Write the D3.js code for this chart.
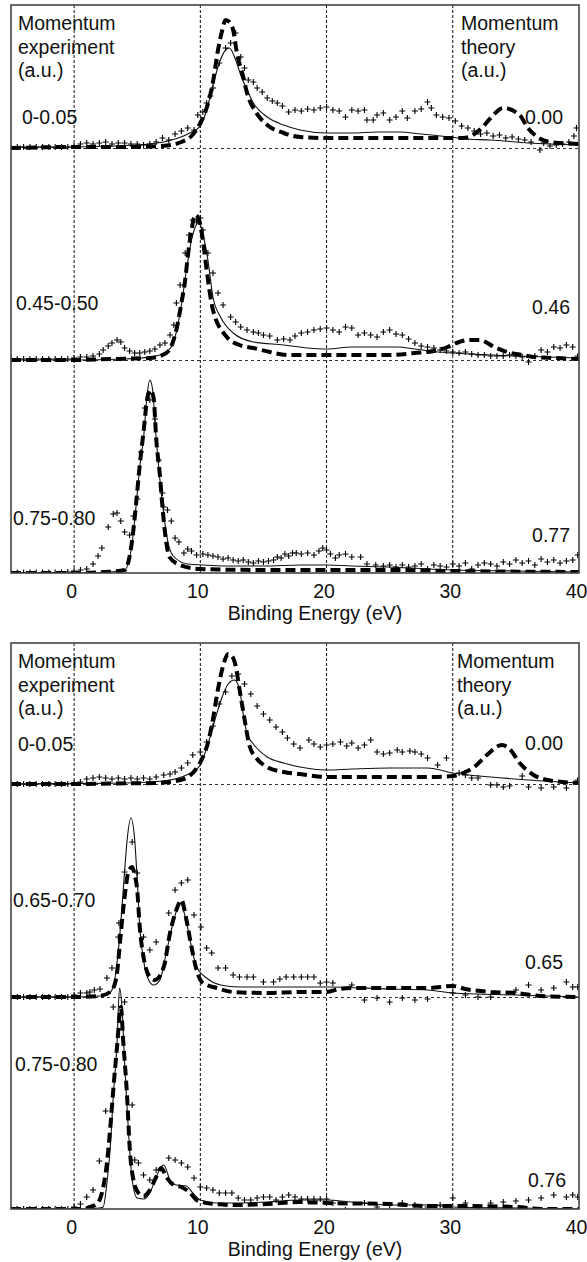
<!DOCTYPE html>
<html>
<head>
<meta charset="utf-8">
<script src="https://cdn.jsdelivr.net/npm/d3@7"></script>
<style>
body { margin:0; background:#fff; }
#c { width:587px; height:1262px; }
text { font-family: "Liberation Sans", Arial, Helvetica, sans-serif; fill:#111; }
</style>
</head>
<body>
<div id="c"></div>
<script>
"use strict";

const ticks = [0,10,20,30,40]
const xDomain = [-5,40]
const xLabel = "Binding Energy (eV)"
const leftTitle = ["Momentum","experiment","(a.u.)"]
const rightTitle = ["Momentum","theory","(a.u.)"]
const topExpLabels = ["0-0.05","0.45-0.50","0.75-0.80"]
const topTheoryLabels = ["0.00","0.46","0.77"]
const botExpLabels = ["0-0.05","0.65-0.70","0.75-0.80"]
const botTheoryLabels = ["0.00","0.65","0.76"]

// all series are [binding energy (eV), intensity (a.u.)]

// upper figure, 0-0.05 a.u.
const t1Exp = [[-5,1],[-4.5,1],[-4,1],[-3.5,1],[-3,1],[-2.5,1],[-2,1],[-1.5,1],[-1,1],[-0.5,1],[0,2],
    [0.5,4],[1,5],[1.5,4],[2,5],[2.5,6],[3,4],[3.5,5],[4,5],[4.5,4],[5,4],[5.5,3],[6,4],[6.5,6],
    [7,10],[7.5,8],[8,14],[8.5,17],[9,20],[9.5,18],[9.8,33],[10.2,36],[10.5,45],[10.8,52],[11,60],
    [11.5,85],[12,100],[12.4,105],[12.8,115],[13.2,91],[13.5,80],[13.8,68],[14.2,66],[14.5,60],
    [14.9,56],[15.3,50],[15.7,47],[16.1,45],[16.5,42],[17,36],[17.5,38],[18,37],[18.5,39],[19,38],
    [19.5,40],[20,41],[20.5,38],[21,37],[21.5,31],[22,38],[22.5,37],[23,38],[23.2,28],[23.7,28],
    [24,33],[24.5,35],[25,28],[25.5,31],[26,37],[26.4,30],[27,37],[27.5,39],[28,46],[28.3,40],
    [28.7,33],[29.2,31],[29.7,30],[30.2,27],[30.7,22],[31.2,20],[31.7,17],[32.2,14],[32.7,15],
    [33.2,12],[33.7,13],[34.2,10],[34.7,11],[35.2,9],[35.7,8],[36.2,6],[36.9,-2],[37.2,5],[37.7,2],
    [38.2,3],[38.7,4],[39.2,6],[39.6,12],[39.8,20]]
const t1Solid = [[-5,0.5],[0,1],[3,2],[6,4],[8,9],[9,14],[10,22],[10.5,38],[11,63],[11.5,85],
    [12,98],[12.3,100],[12.8,88],[13.2,73],[13.7,58],[14.2,45],[15.3,31],[16.6,23],[17.9,18],
    [20,15],[22,15],[24,16],[25.8,16],[27.5,14],[29.8,11],[31,9],[33,8],[36,5],[40,3]]
const t1Dash = [[-5,0],[0,1],[4,1],[7,2],[8.5,6],[9.3,12],[10,25],[10.5,40],[11,66],[11.4,98],
    [11.7,116],[12,128],[12.3,126],[12.6,118],[12.9,95],[13.4,71],[13.7,55],[14.4,36],[15.3,23],
    [16.6,15],[17.9,11],[20,10],[25,10],[29,10],[30.8,10],[32.3,20],[33,30],[34,40],[35.3,33],
    [35.9,21],[36.7,11],[37.7,6],[40,4]]

// upper figure, 0.45-0.50 a.u.
const t2Exp = [[-5,1],[-4.5,1],[-4,1],[-3.5,1],[-3,1],[-2.5,1],[-2,1],[-1.5,1],[-1,1],[-0.5,1],[0,2],
    [0.5,3],[1,3],[1.5,4],[2,6],[2.3,10],[2.7,14],[3,17],[3.4,20],[3.7,18],[4,12],[4.4,9],[4.8,7],
    [5.2,7],[5.6,8],[6,9],[6.4,11],[6.8,15],[7.2,17],[7.6,25],[7.9,35],[8.1,57],[8.4,75],[8.8,107],
    [9.1,125],[9.4,140],[9.7,138],[10,142],[10.2,130],[10.6,107],[11,87],[11.4,67],[11.8,55],
    [12.4,43],[12.8,38],[13.2,33],[13.7,30],[14.2,28],[14.6,27],[15,25],[15.5,24],[16.1,20],
    [16.6,21],[17.1,20],[17.5,24],[18,27],[18.5,28],[19,30],[19.5,31],[20,32],[20.5,30],[21,28],
    [21.5,33],[22,32],[22.5,25],[23,27],[23.5,25],[24,23],[24.5,28],[25,30],[25.5,26],[26,25],
    [26.5,21],[27,17],[27.5,14],[28,13],[28.5,12],[29,10],[29.5,9],[30,8],[30.5,7],[31,8],[31.5,6],
    [32,5],[32.5,5],[33,4],[33.5,4],[34,4],[34.5,5],[35,4],[35.5,3],[36,-2],[36.5,4],[37,10],
    [37.5,8],[38,13],[38.5,12],[39,15],[39.5,13],[39.9,4]]
const t2Solid = [[-5,0],[0,0],[4,1],[6,3],[7,6],[7.8,15],[8.1,28],[8.5,55],[8.9,90],[9.3,120],
    [9.6,133],[9.9,138],[10.2,126],[10.6,100],[11,63],[11.6,43],[12.6,27],[14.2,18],[16.6,15],
    [18.5,12],[20,11],[22,13],[25.6,13],[27,11],[28.8,8],[30,7],[35,4],[40,2]]
const t2Dash = [[-5,0],[0,0],[3,1],[6,2],[7.3,7],[7.8,17],[8.1,30],[8.5,57],[8.8,80],[9,103],
    [9.3,130],[9.6,145],[9.9,140],[10.2,120],[10.5,90],[11,50],[12.1,23],[13.1,15],[14.2,12],
    [15.5,8],[17,5],[20,5],[25,5],[27,7],[28.5,9],[29.6,13],[30.5,18],[31.2,20],[32.1,20],
    [33.3,13],[34.3,8],[35.5,5],[36.4,3],[38,2],[40,1]]

// upper figure, 0.75-0.80 a.u.
const t3Exp = [[-5,0.5],[-4.5,0.5],[-4,0.5],[-3.5,0.5],[-3,0.5],[-2.5,0.5],[-2,0.5],[-1.5,0.5],
    [-1,0.5],[-0.5,1],[0,2],[0.5,3],[1,4],[1.5,9],[1.9,17],[2.2,25],[2.7,46],[3.1,59],[3.4,60],
    [3.7,52],[4,41],[4.4,38],[4.7,57],[5,74],[5.3,121],[5.6,165],[6,173],[6.4,154],[6.7,113],
    [7,80],[7.1,66],[7.4,63],[7.7,52],[8,35],[8.3,31],[8.7,20],[9,24],[9.3,22],[9.7,18],[10.2,19],
    [10.6,18],[11,17],[11.4,16],[11.8,14],[12.2,15],[12.6,13],[13,12],[13.4,13],[13.8,11],
    [14.2,10],[14.6,12],[15,11],[15.4,12],[15.8,13],[16.1,16],[16.4,15],[16.7,19],[17,17],
    [17.3,20],[17.6,20],[18,19],[18.5,20],[19,18],[19.4,22],[19.7,25],[20,23],[20.3,19],[20.7,15],
    [21,18],[21.5,19],[22,16],[22.7,16],[23.2,9],[23.9,8],[24.5,7],[25,8],[25.5,6],[26,8],[26.5,6],
    [27,7],[27.5,9],[28,4],[28.5,8],[29,7],[29.5,6],[30,9],[30.5,7],[31,10],[31.5,4],[32,8],
    [32.5,10],[33,9],[33.5,7],[34,11],[34.5,9],[35,13],[35.5,10],[36,12],[36.5,8],[37,14],
    [37.5,11],[38,13],[38.5,10],[39,12],[39.5,13],[39.9,18]]
const t3Solid = [[-5,0],[0,0],[2,0.5],[3.5,2],[4,3],[4.6,30],[4.9,66],[5.2,106],[5.5,135],
    [5.8,180],[6,193],[6.2,185],[6.5,135],[6.7,106],[7,69],[7.4,33],[7.85,17],[9,9],[10.2,8],
    [12,7],[15,7],[18,8],[20,8],[22,7],[25,6],[28,4],[30,3],[35,2],[40,1]]
const t3Dash = [[-5,0],[0,0],[2.5,1],[4,3],[4.6,33],[4.9,68],[5.2,108],[5.5,141],[5.8,175],
    [6.05,183],[6.3,175],[6.5,135],[6.8,97],[7,66],[7.3,31],[7.55,16],[8.4,8],[10,4],[15,3],
    [25,3],[30,2],[40,1]]

// lower figure, 0-0.05 a.u.
const b1Exp = [[-5,0],[-4.5,0],[-4,0],[-3.5,0],[-3,0],[-2.5,0],[-2,0],[-1.5,0],[-1,0],[-0.5,0],
    [0,1],[0.5,2],[1,5],[1.5,6],[2,7],[2.5,6],[3,5],[3.5,6],[4,5],[4.5,6],[5,5],[5.5,6],[6,5],
    [6.5,7],[7.1,9],[7.6,10],[8,12],[8.5,16],[9,21],[9.4,29],[10,32],[10.5,42],[11,58],[11.5,80],
    [12,92],[12.5,108],[13,110],[13.5,100],[14,90],[14.5,78],[15,70],[15.5,64],[16,57],[16.5,52],
    [16.9,46],[17.4,40],[17.9,36],[18.6,44],[19,40],[19.5,37],[20,39],[20.5,40],[21.1,42],
    [21.6,38],[22,41],[22.5,36],[23,39],[23.5,44],[24,32],[24.5,30],[25,31],[25.6,34],[26,32],
    [26.6,33],[27,32],[27.5,30],[28,26],[28.8,19],[29.5,26],[30.5,11],[31,9],[31.5,6],[32,6],
    [33,-1],[33.5,-1],[34,-3],[34.5,-2],[35.5,8],[36,-3],[37,-4],[38,-3],[39,-4],[39.9,4]]
const b1Solid = [[-5,0],[0,0.5],[4,1],[7,3],[8.5,7],[9.5,13],[10,19],[10.7,44],[11.2,66],
    [11.7,86],[12.2,100],[12.7,104],[13.1,95],[13.4,70],[13.7,50],[14.2,40],[15.3,27],[16.6,21],
    [17.9,17],[20,14],[22,15],[25,16],[28,16],[30,11],[33,7],[36,4],[40,1]]
const b1Dash = [[-5,0],[0,0],[3,0.5],[6.5,1],[8.4,4],[9.4,11],[10.2,27],[10.6,41],[11,65],
    [11.4,95],[11.8,118],[12.2,130],[12.5,128],[12.8,118],[13.1,95],[13.5,65],[13.9,38],[14.5,25],
    [15.3,17],[16.6,12],[17.9,10],[20,7],[25,7],[28,7],[30,8],[31,12],[31.7,17],[32.7,29],
    [33.9,39],[34.5,35],[35.3,21],[36.4,9],[37.5,4],[40,1]]

// lower figure, 0.65-0.70 a.u.
const b2Exp = [[-5,0],[-4.5,0],[-4,0],[-3.5,0],[-3,0],[-2.5,0],[-2,0],[-1.5,0],[-1,0],[-0.5,0],
    [0,2],[0.5,4],[1,4],[1.25,5],[1.6,7],[2.05,8],[2.6,19],[3,29],[3.5,60],[3.55,74],[4,125],
    [4.6,155],[5,124],[5.5,60],[6,47],[6.5,55],[7.5,84],[8,107],[8.5,114],[9,117],[9.5,82],
    [10.05,70],[10.5,49],[10.9,44],[11.4,29],[12,29],[12.6,22],[13.1,20],[13.7,20],[14.2,20],
    [15,15],[15.8,15],[16.3,18],[16.8,20],[17.4,20],[18,20],[18.5,20],[19,20],[19.5,14],[20,15],
    [20.5,14],[22,12],[23,-3],[24,-1],[25,-5],[26,-1],[27,-3],[28,-2],[30,4],[31,2],[32,0],
    [33,0],[35,7],[36,12],[37,7],[38,9],[39,15],[39.5,10],[39.9,10]]
const b2Solid = [[-5,0],[0,0],[2,1],[2.6,2],[3.1,10],[3.4,34],[3.7,74],[3.95,117],[4.2,157],
    [4.5,179],[4.8,157],[5,117],[5.2,70],[5.5,37],[5.9,17],[6.3,12],[6.8,17],[7.3,44],[7.9,77],
    [8.4,94],[8.9,75],[9.3,50],[9.7,30],[10.5,19],[11.6,12],[13.1,10],[15.3,10],[17.9,10],
    [20,10],[25,8],[28,7],[30,4],[35,2],[40,0]]
const b2Dash = [[-5,0],[0,0],[2,1],[2.85,5],[3.2,12],[3.4,24],[3.65,57],[4,100],[4.3,125],
    [4.6,130],[4.8,122],[5,107],[5.2,70],[5.5,40],[6,20],[6.4,17],[7.1,30],[7.6,64],[8.1,87],
    [8.5,97],[8.9,77],[9.3,50],[9.7,27],[10.2,14],[11.3,9],[12.6,5],[15.3,4],[17.9,5],[20,5],
    [21,8],[22,9],[25,9],[28,9],[30,11],[31,8],[33,5],[35,4],[37,1],[40,0]]

// lower figure, 0.75-0.80 a.u.
const b3Exp = [[-5,0],[-4.5,0],[-4,0],[-3.5,0],[-3,0],[-2.5,0],[-2,0],[-1.5,0],[-1,0],[-0.5,0],
    [0,2],[0.5,5],[1,12],[1.5,19],[2,48],[2.5,98],[3.1,202],[4,207],[4.6,104],[4.8,49],[5.1,46],
    [5.5,34],[6,29],[6.5,39],[7.5,51],[8,49],[8.5,46],[9,42],[9.5,31],[10,22],[10.5,21],[11,19],
    [11.5,16],[12,16],[12.5,16],[13,11],[13.5,9],[14,9],[14.5,11],[15,12],[15.5,12],[16,9],
    [16.5,12],[17,14],[17.5,12],[18,10],[18.5,10],[19,10],[19.5,10],[20,10],[20.5,6],[21.5,-1],
    [23,6],[24,2],[25,4],[26,6],[27,4],[28,2],[29,4],[30,11],[31,6],[32,2],[33,6],[34,7],[35,8],
    [36,9],[37,11],[38,14],[39,12],[39.5,14],[39.9,12]]
const b3Solid = [[-5,0],[0,0],[2,1],[2.3,2],[2.6,26],[2.85,59],[3.1,112],[3.4,166],[3.6,221],
    [3.8,200],[4,146],[4.3,79],[4.6,29],[5,11],[5.5,10],[6,16],[6.5,32],[6.9,42],[7.1,44],
    [7.6,29],[8.1,24],[8.9,23],[9.4,16],[10,9],[11.3,6],[12.6,6],[15.3,7],[17.9,9],[20,9],
    [22,7],[25,4],[28,4],[30,2],[35,1],[40,0]]
const b3Dash = [[-5,0],[0.7,0],[1.25,2],[1.8,5],[2.2,16],[2.6,46],[2.85,79],[3.1,119],[3.4,162],
    [3.7,202],[3.9,166],[4.2,112],[4.4,62],[4.7,29],[5.1,16],[5.5,13],[6,19],[6.5,32],[6.9,41],
    [7.3,32],[7.9,24],[8.5,22],[9.2,16],[9.7,9],[10.5,6],[12.6,4],[15.3,5],[17.9,7],[20,6],
    [25,5],[28,3],[30,3],[35,2],[37,0],[40,0]]

let svg
let xScale

const fontSize = 19.5
const frameLeft = 11
const frameRight = 579

const figures = [
    {
        top: 5, bottom: 573, bases: [148, 360, 573], rightTitleX: 461,
        expLabels: topExpLabels, theoryLabels: topTheoryLabels,
        expPos: [[22,124],[16,310],[13,525]], theoryPos: [[563,124],[570,314],[570,542]],
        sets: [[t1Exp, t1Solid, t1Dash], [t2Exp, t2Solid, t2Dash], [t3Exp, t3Solid, t3Dash]]
    },
    {
        top: 643, bottom: 1209, bases: [784, 997, 1209], rightTitleX: 457,
        expLabels: botExpLabels, theoryLabels: botTheoryLabels,
        expPos: [[18,751],[13,907],[15,1071]], theoryPos: [[563,750],[563,969],[566,1187]],
        sets: [[b1Exp, b1Solid, b1Dash], [b2Exp, b2Solid, b2Dash], [b3Exp, b3Solid, b3Dash]]
    }
]

window.onload = function() {
    svg = d3.select('#c').append('svg')
        .attr('width', 587)
        .attr('height', 1262)
    xScale = d3.scaleLinear().domain(xDomain).range([frameLeft, frameRight])
    figures.forEach(drawFigure)
}

function drawFigure(f, i) {
    let g = svg.append('g')
    let clipId = 'clip' + i
    svg.append('clipPath').attr('id', clipId)
        .append('rect')
        .attr('x', frameLeft).attr('y', f.top)
        .attr('width', frameRight - frameLeft).attr('height', f.bottom - f.top)

    // vertical dotted grid
    g.selectAll('.vgrid').data(ticks.filter(t => t < xDomain[1])).enter()
        .append('line')
        .attr('x1', d => xScale(d)).attr('x2', d => xScale(d))
        .attr('y1', f.top).attr('y2', f.bottom)
        .attr('stroke', '#111').attr('stroke-width', 1)
        .attr('stroke-dasharray', '3,2')

    // dashed zero lines of the upper two spectra
    g.selectAll('.hgrid').data(f.bases.slice(0, 2)).enter()
        .append('line')
        .attr('x1', frameLeft).attr('x2', frameRight)
        .attr('y1', d => d + 0.5).attr('y2', d => d + 0.5)
        .attr('stroke', '#333').attr('stroke-width', 1)
        .attr('stroke-dasharray', '3,3')

    let plot = g.append('g').attr('clip-path', 'url(#' + clipId + ')')
    f.sets.forEach((set, k) => {
        let base = f.bases[k]
        let yScale = d3.scaleLinear().domain([0, 100]).range([base, base - 100])
        let line = d3.line()
            .x(d => xScale(d[0]))
            .y(d => yScale(d[1]))
            .curve(d3.curveMonotoneX)

        plot.append('path').datum(set[1])
            .attr('fill', 'none')
            .attr('stroke', '#111')
            .attr('stroke-width', 1.1)
            .attr('d', line)

        plot.append('path').datum(set[2])
            .attr('fill', 'none')
            .attr('stroke', '#000')
            .attr('stroke-width', 4)
            .attr('stroke-dasharray', '10,5')
            .attr('d', line)

        plot.append('g').selectAll('path').data(set[0]).enter()
            .append('path')
            .attr('d', 'M-3,0H3M0,-3V3')
            .attr('transform', d => 'translate(' + xScale(d[0]) + ',' + yScale(d[1]) + ')')
            .attr('stroke', '#000')
            .attr('stroke-width', 1.1)
            .attr('fill', 'none')
    })

    // frame
    g.append('rect')
        .attr('x', frameLeft).attr('y', f.top)
        .attr('width', frameRight - frameLeft).attr('height', f.bottom - f.top)
        .attr('fill', 'none')
        .attr('stroke', '#444')
        .attr('stroke-width', 1.6)

    // bottom axis, labels only
    let axis = g.append('g')
        .attr('transform', 'translate(0,' + f.bottom + ')')
        .call(d3.axisBottom(xScale).tickValues(ticks).tickSize(0).tickPadding(11))
    axis.select('.domain').remove()
    axis.selectAll('text')
        .attr('dx', '-3')
        .style('font-size', fontSize + 'px')
        .style('font-family', '"Liberation Sans", Arial, sans-serif')
        .attr('fill', '#111')

    g.append('text')
        .attr('x', 315).attr('y', f.bottom + 47)
        .attr('text-anchor', 'middle')
        .style('font-size', fontSize + 'px')
        .text(xLabel)

    // corner titles
    leftTitle.forEach((t, j) => {
        g.append('text')
            .attr('x', 18).attr('y', f.top + 25 + j * 23.5)
            .style('font-size', fontSize + 'px')
            .text(t)
    })
    rightTitle.forEach((t, j) => {
        g.append('text')
            .attr('x', f.rightTitleX).attr('y', f.top + 25 + j * 23.5)
            .style('font-size', fontSize + 'px')
            .text(t)
    })

    f.expLabels.forEach((t, j) => {
        g.append('text')
            .attr('x', f.expPos[j][0]).attr('y', f.expPos[j][1])
            .style('font-size', fontSize + 'px')
            .text(t)
    })
    f.theoryLabels.forEach((t, j) => {
        g.append('text')
            .attr('x', f.theoryPos[j][0]).attr('y', f.theoryPos[j][1])
            .attr('text-anchor', 'end')
            .style('font-size', fontSize + 'px')
            .text(t)
    })
}
</script>
</body>
</html>
